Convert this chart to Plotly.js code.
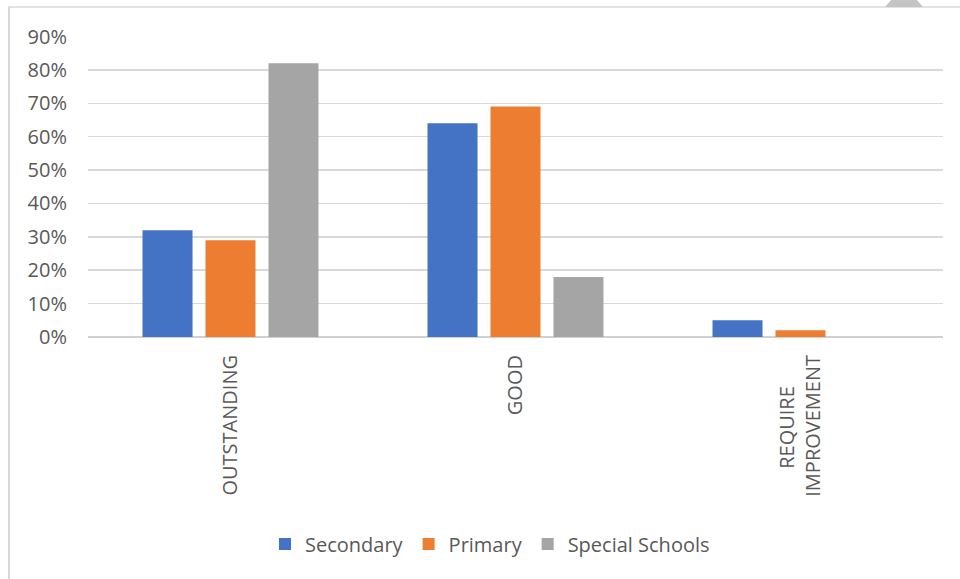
<!DOCTYPE html>
<html>
<head>
<meta charset="utf-8">
<script src="https://cdn.plot.ly/plotly-3.0.1.min.js"></script>
<style>
  html, body { margin: 0; padding: 0; background: #ffffff; }
  #chart { width: 960px; height: 579px; }
</style>
</head>
<body>
<div id="chart"></div>
<script>
// ---- data ----
const categories = ["OUTSTANDING", "GOOD", "REQUIRE\u00a0\u00a0\u00a0\u00a0\u00a0\u00a0<br>IMPROVEMENT"];
const seriesNames = ["Secondary", "Primary", "Special Schools"];
const secondary = [0.32, 0.64, 0.05];
const primary = [0.29, 0.69, 0.02];
const specialSchools = [0.82, 0.18, 0.0];
const yTickValues = [0, 0.1, 0.2, 0.3, 0.4, 0.5, 0.6, 0.7, 0.8, 0.9];

// ---- styling ----
const colors = ["#4472C4", "#ED7D31", "#A5A5A5"];
const textColor = "#595959";
const fontFamily = "'Open Sans', 'Noto Sans', sans-serif";

const W = 960, H = 579;
const margin = { l: 88, r: 17, t: 36, b: 242 };
const pw = W - margin.l - margin.r;
const ph = H - margin.t - margin.b;
const px2x = (px) => (px - margin.l) / pw;
const py2y = (py) => (H - margin.b - py) / ph;

const allValues = [secondary, primary, specialSchools];
const traces = allValues.map((vals, i) => ({
  type: "bar",
  name: seriesNames[i],
  x: categories,
  y: vals,
  marker: { color: colors[i], line: { width: 0 } },
  hoverinfo: "x+y+name"
}));

const layout = {
  width: W,
  height: H,
  margin: margin,
  paper_bgcolor: "#ffffff",
  plot_bgcolor: "#ffffff",
  font: { family: fontFamily, size: 20, color: textColor },
  barmode: "group",
  bargap: 0.337,
  bargroupgap: 0.206,
  showlegend: true,
  legend: {
    orientation: "h",
    x: px2x(490),
    xanchor: "center",
    y: py2y(544),
    yanchor: "middle",
    font: { family: fontFamily, size: 20, color: textColor },
    bgcolor: "rgba(0,0,0,0)",
    traceorder: "normal"
  },
  xaxis: {
    type: "category",
    tickangle: -90,
    ticks: "",
    showgrid: false,
    showline: false,
    zeroline: false,
    ticklabelstandoff: 13,
    tickfont: { family: fontFamily, size: 20, color: textColor },
    fixedrange: true
  },
  yaxis: {
    range: [0, 0.9015],
    tickvals: yTickValues,
    tickformat: ".0%",
    showgrid: true,
    gridcolor: "#d9d9d9",
    gridwidth: 1.5,
    zeroline: true,
    zerolinecolor: "#d0d0d0",
    zerolinewidth: 2,
    showline: false,
    ticks: "",
    ticklabelstandoff: 20,
    tickfont: { family: fontFamily, size: 20, color: textColor },
    fixedrange: true
  },
  shapes: [
    // chart frame (left and top edges)
    { type: "line", xref: "paper", yref: "paper",
      x0: px2x(9), x1: px2x(9), y0: py2y(7), y1: py2y(H + 5),
      line: { color: "#d9d9d9", width: 2 } },
    { type: "line", xref: "paper", yref: "paper",
      x0: px2x(8), x1: px2x(W + 5), y0: py2y(7), y1: py2y(7),
      line: { color: "#d9d9d9", width: 1.5 } },
    // small grey tab at top right
    { type: "path", xref: "paper", yref: "paper",
      path: "M " + px2x(885) + "," + py2y(7) + " L " + px2x(923) + "," + py2y(7) +
            " L " + px2x(916) + "," + py2y(-1) + " L " + px2x(892) + "," + py2y(-1) + " Z",
      fillcolor: "#c4c4c4", line: { width: 0 } }
  ]
};

Plotly.newPlot("chart", traces, layout, { displayModeBar: false, staticPlot: true });
</script>
</body>
</html>
